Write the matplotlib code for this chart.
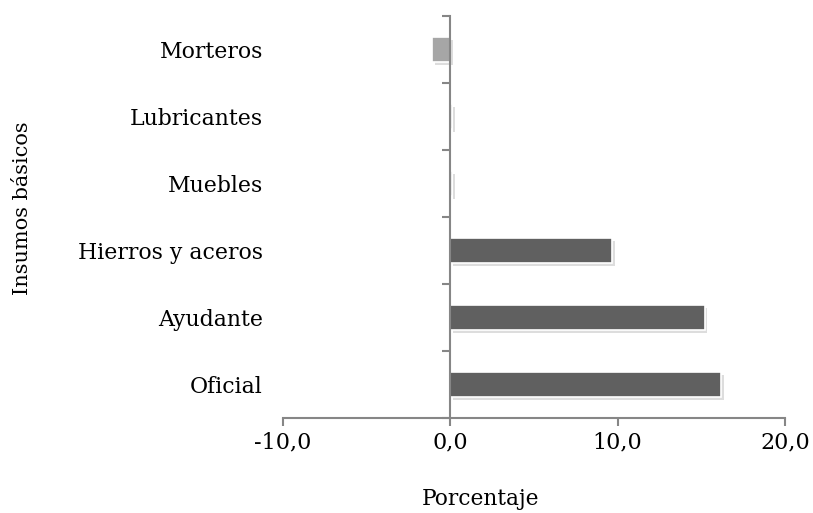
import matplotlib
matplotlib.use("Agg")
import matplotlib.pyplot as plt
import matplotlib.patheffects as pe
import numpy as np

# Datos (de abajo hacia arriba)
categorias = ["Oficial", "Ayudante", "Hierros y aceros", "Muebles", "Lubricantes", "Morteros"]
valores = [16.2, 15.2, 9.65, 0.1, 0.1, -1.1]
colores = ["#606060", "#606060", "#606060", "#a6a6a6", "#a6a6a6", "#a6a6a6"]
x_ticks = [-10, 0, 10, 20]

plt.rcParams["font.family"] = "DejaVu Serif"

fig = plt.figure(figsize=(8.13, 5.13), dpi=100)
ax = fig.add_axes([283 / 813, 95 / 513, 502 / 813, 402 / 513])

y = np.arange(len(categorias))
bars = ax.barh(y, valores, height=0.37, color=colores, edgecolor="white", linewidth=1.2)
for b in bars:
    b.set_path_effects([pe.SimplePatchShadow(offset=(2, -2), alpha=0.2, shadow_rgbFace="#555555"),
                        pe.Normal()])

ax.set_xlim(-10, 20)
ax.set_ylim(-0.5, len(categorias) - 0.5)

axis_color = "#868686"
for s in ["top", "right"]:
    ax.spines[s].set_visible(False)
ax.spines["left"].set_position(("data", 0))
ax.spines["left"].set_color(axis_color)
ax.spines["left"].set_linewidth(1.5)
ax.spines["bottom"].set_color(axis_color)
ax.spines["bottom"].set_linewidth(1.5)

ax.set_xticks(x_ticks)
ax.set_xticklabels([f"{v:.1f}".replace(".", ",") for v in x_ticks])
ax.tick_params(axis="x", which="major", length=6, width=1.5, color=axis_color,
               labelsize=16, pad=4)

ax.set_yticks(y)
ax.set_yticklabels(categorias)
ax.set_yticks(np.arange(-0.5, len(categorias)), minor=True)
ax.tick_params(axis="y", which="major", length=0, labelsize=15.8, pad=135)
ax.tick_params(axis="y", which="minor", length=6, width=1.5, color=axis_color)

fig.text(22 / 813, 1 - 208 / 513, "Insumos básicos", rotation=90, ha="center", va="center", fontsize=15)
fig.text(480 / 813, 1 - 499 / 513, "Porcentaje", ha="center", va="center", fontsize=15.7)

fig.savefig("out.png", dpi=100)
